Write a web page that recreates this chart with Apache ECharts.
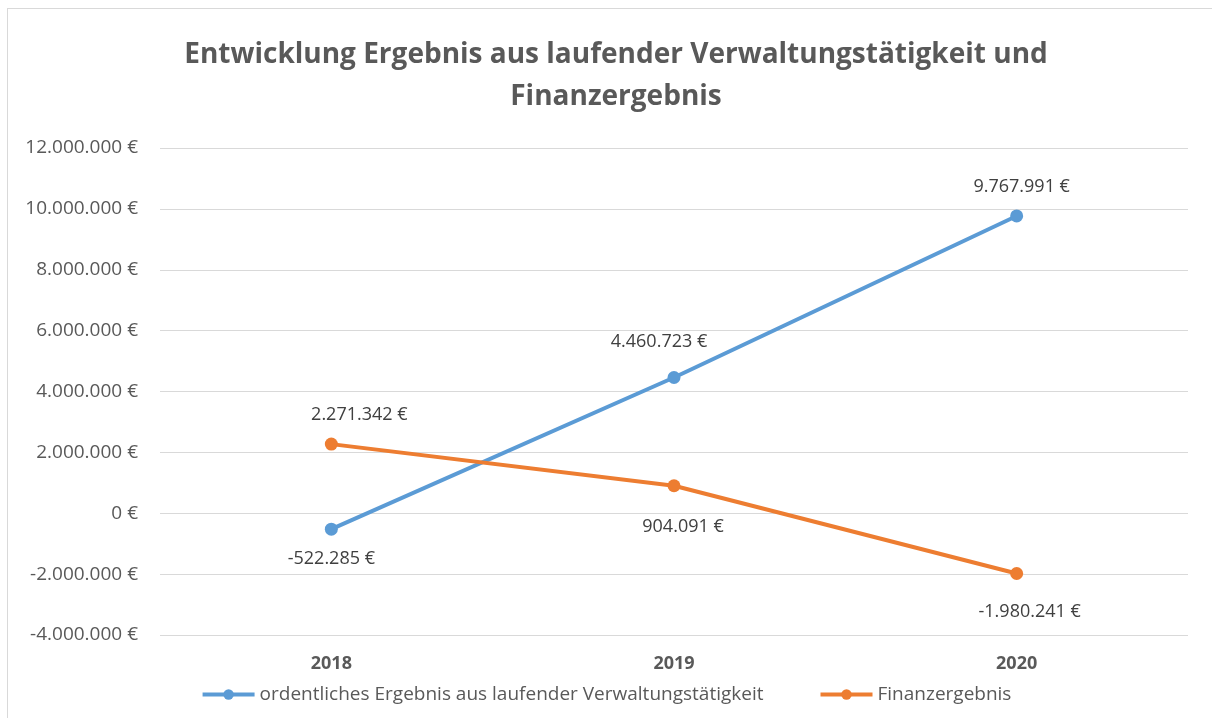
<!DOCTYPE html>
<html>
<head>
<meta charset="utf-8">
<script src="https://cdn.jsdelivr.net/npm/echarts@6/dist/echarts.min.js"></script>
<style>
  html, body { margin: 0; padding: 0; background: #fff; }
  #chart { width: 1212px; height: 718px; }
  .frame { position: absolute; left: 7px; top: 8px; right: -2px; bottom: -2px; border: 1px solid #d9d9d9; pointer-events: none; }
</style>
</head>
<body>
<div id="chart"></div>
<div class="frame"></div>
<script>
// Daten
var years = ['2018', '2019', '2020'];
var ordentlichesErgebnis = [-522285, 4460723, 9767991];
var finanzErgebnis = [2271342, 904091, -1980241];

// Beschriftungs-Layout (oben/unten, Versatz wie im Original)
var labelPosBlue = ['bottom', 'top', 'top'];
var labelPosOrange = ['top', 'bottom', 'bottom'];
var labelOffBlue = [[0, 0], [-15, -6], [5, 0]];
var labelOffOrange = [[28, 0], [9, 12], [13, 9]];

// Zahlen im deutschen Format
function euro(v) {
    var s = Math.abs(Math.round(v)).toString().replace(/\B(?=(\d{3})+(?!\d))/g, '.');
    return (v < 0 ? '-' : '') + s + ' €';
}

var font = 'Open Sans';
var grey = '#595959';

function points(values, pos, off) {
    return values.map(function (v, i) {
        return { value: v, label: { position: pos[i], offset: off[i] } };
    });
}

var chart = echarts.init(document.getElementById('chart'));
chart.setOption({
    animation: false,
    title: {
        text: 'Entwicklung Ergebnis aus laufender Verwaltungstätigkeit und\nFinanzergebnis',
        left: 611,
        textAlign: 'center',
        top: 29,
        textStyle: {
            fontFamily: font,
            fontSize: 28,
            fontWeight: 'bold',
            color: grey,
            lineHeight: 42
        }
    },
    legend: {
        bottom: 9,
        left: 'center',
        itemGap: 55,
        itemWidth: 52,
        itemHeight: 13,
        textStyle: { fontFamily: font, fontSize: 19, color: grey },
        data: [
            { name: 'ordentliches Ergebnis aus laufender Verwaltungstätigkeit', lineStyle: { width: 4 } },
            { name: 'Finanzergebnis', lineStyle: { width: 4 } }
        ]
    },
    grid: { left: 160, right: 24, top: 148, bottom: 83 },
    xAxis: {
        type: 'category',
        data: years,
        axisLine: { show: false },
        axisTick: { show: false },
        axisLabel: { fontFamily: font, fontSize: 18, fontWeight: 'bold', color: grey, margin: 20 }
    },
    yAxis: {
        type: 'value',
        min: -4000000,
        max: 12000000,
        interval: 2000000,
        axisLine: { show: false },
        axisTick: { show: false },
        splitLine: { lineStyle: { color: '#d9d9d9', width: 1 } },
        axisLabel: {
            fontFamily: font, fontSize: 19, color: grey, margin: 22,
            formatter: euro
        }
    },
    series: [
        {
            name: 'ordentliches Ergebnis aus laufender Verwaltungstätigkeit',
            type: 'line',
            data: points(ordentlichesErgebnis, labelPosBlue, labelOffBlue),
            symbol: 'circle',
            symbolSize: 13,
            lineStyle: { color: '#5B9BD5', width: 4 },
            itemStyle: { color: '#5B9BD5' },
            label: {
                show: true,
                distance: 14,
                fontFamily: font, fontSize: 18, color: '#404040',
                formatter: function (p) { return euro(p.value); }
            }
        },
        {
            name: 'Finanzergebnis',
            type: 'line',
            data: points(finanzErgebnis, labelPosOrange, labelOffOrange),
            symbol: 'circle',
            symbolSize: 13,
            lineStyle: { color: '#ED7D31', width: 4 },
            itemStyle: { color: '#ED7D31' },
            label: {
                show: true,
                distance: 14,
                fontFamily: font, fontSize: 18, color: '#404040',
                formatter: function (p) { return euro(p.value); }
            }
        }
    ]
});
</script>
</body>
</html>
